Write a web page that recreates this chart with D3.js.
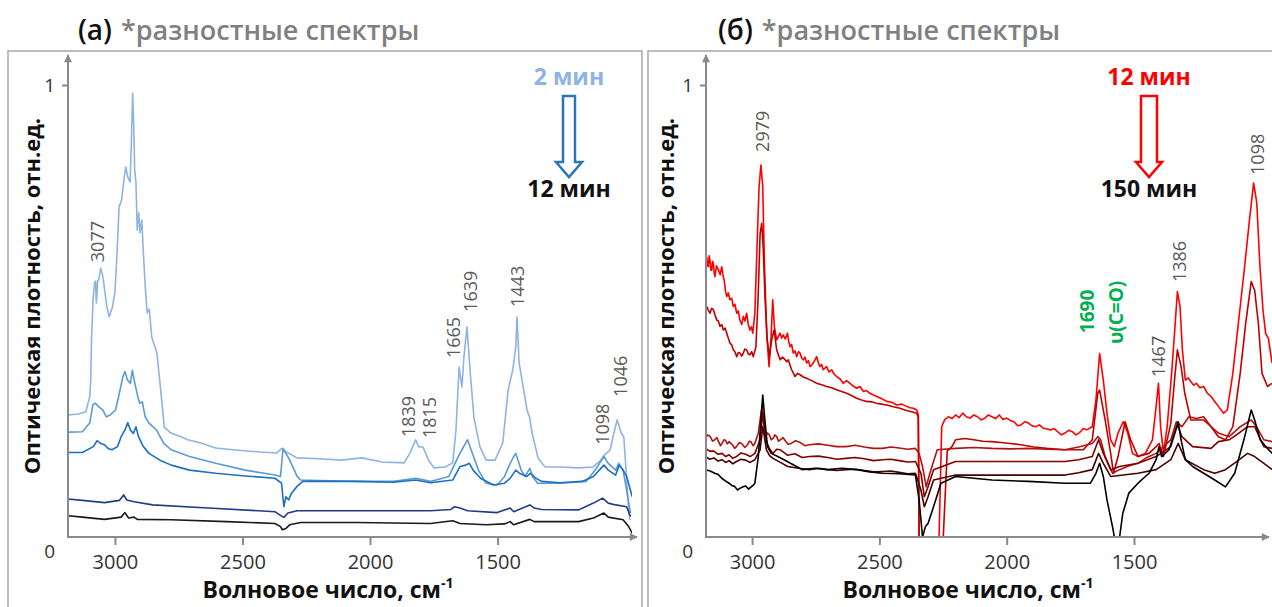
<!DOCTYPE html>
<html>
<head>
<meta charset="UTF-8">
<title>Разностные спектры</title>
<script src="https://cdn.jsdelivr.net/npm/d3@7"></script>
<style>
body { margin: 0; background: #fff; }
text { font-family: "Open Sans", "DejaVu Sans", sans-serif; }
</style>
</head>
<body>
<script>
var Width = 1272, Height = 607;

// ---- data: [wavenumber, absorbance] ----
// panel (a), 2 -> 12 min
var a2min = [[3199,.270],[3158,.272],[3129,.277],[3114,.310],[3110,.347],[3107,.436],[3101,.524],[3095,.562],[3091,.566],[3088,.518],[3083,.566],[3078,.571],[3071,.595],[3062,.575],[3048,.513],[3038,.487],[3025,.509],[3015,.542],[3007,.628],[2999,.730],[2989,.746],[2980,.790],[2973,.819],[2965,.796],[2956,.785],[2951,.872],[2946,.982],[2942,.918],[2938,.812],[2933,.785],[2928,.679],[2922,.717],[2917,.673],[2910,.701],[2904,.628],[2895,.540],[2889,.496],[2881,.504],[2871,.442],[2851,.407],[2836,.325],[2822,.243],[2796,.230],[2753,.221],[2730,.215],[2679,.208],[2621,.197],[2534,.192],[2447,.188],[2382,.186],[2362,.196],[2345,.188],[2302,.175],[2216,.173],[2128,.170],[2048,.175],[1970,.166],[1883,.164],[1860,.186],[1838,.215],[1825,.199],[1809,.199],[1788,.170],[1766,.153],[1723,.155],[1693,.164],[1680,.237],[1668,.376],[1657,.332],[1649,.398],[1637,.465],[1625,.369],[1610,.265],[1586,.199],[1562,.170],[1527,.170],[1497,.208],[1476,.325],[1458,.369],[1446,.420],[1441,.487],[1433,.385],[1417,.332],[1402,.281],[1392,.265],[1382,.230],[1359,.175],[1331,.155],[1273,.155],[1200,.153],[1143,.155],[1113,.170],[1100,.181],[1077,.192],[1062,.230],[1049,.259],[1033,.230],[1023,.221],[1011,.119],[1004,.060],[999,.038]];
var a4min = [[3198,.232],[3143,.233],[3114,.252],[3102,.292],[3092,.296],[3078,.288],[3063,.281],[3049,.266],[3034,.270],[3013,.281],[2998,.318],[2984,.355],[2976,.366],[2966,.347],[2955,.340],[2947,.369],[2940,.347],[2926,.311],[2918,.296],[2908,.299],[2897,.266],[2882,.252],[2853,.237],[2824,.207],[2795,.193],[2723,.178],[2621,.163],[2505,.148],[2389,.137],[2367,.134],[2357,.196],[2346,.185],[2331,.170],[2302,.134],[2288,.126],[2215,.125],[2070,.123],[1925,.123],[1838,.130],[1780,.123],[1708,.134],[1671,.178],[1657,.193],[1635,.215],[1621,.193],[1592,.148],[1563,.119],[1519,.115],[1490,.134],[1468,.163],[1454,.178],[1446,.185],[1442,.178],[1425,.148],[1410,.134],[1391,.152],[1381,.134],[1360,.119],[1273,.119],[1171,.123],[1135,.148],[1101,.178],[1084,.163],[1055,.148],[1043,.163],[1026,.148],[1012,.104],[997,.053]];
var a6min = [[3198,.187],[3143,.187],[3100,.200],[3085,.213],[3071,.207],[3056,.204],[3042,.196],[3027,.193],[3005,.200],[2991,.222],[2976,.237],[2965,.253],[2955,.237],[2943,.229],[2933,.244],[2923,.222],[2904,.200],[2882,.185],[2839,.170],[2795,.159],[2723,.148],[2621,.141],[2505,.135],[2389,.130],[2363,.119],[2354,.067],[2346,.089],[2335,.082],[2324,.097],[2302,.112],[2280,.123],[2215,.123],[2070,.123],[1925,.121],[1838,.126],[1780,.120],[1693,.126],[1664,.156],[1642,.159],[1628,.163],[1613,.148],[1584,.130],[1534,.115],[1490,.119],[1468,.130],[1446,.148],[1432,.141],[1403,.134],[1388,.141],[1367,.130],[1345,.123],[1273,.120],[1186,.123],[1142,.134],[1101,.159],[1084,.148],[1055,.137],[1041,.159],[1026,.148],[1012,.134],[990,.089]];
var a9min = [[3198,.084],[3143,.081],[3056,.076],[2998,.081],[2981,.093],[2969,.082],[2940,.078],[2868,.071],[2650,.064],[2389,.056],[2360,.045],[2353,.044],[2338,.053],[2302,.058],[2070,.058],[1780,.058],[1700,.061],[1686,.067],[1664,.064],[1635,.058],[1519,.054],[1468,.064],[1454,.056],[1391,.071],[1374,.064],[1345,.061],[1200,.060],[1142,.075],[1106,.086],[1084,.075],[1055,.071],[1012,.067],[997,.045]];
var a12min = [[3198,.047],[3143,.044],[3056,.039],[2991,.044],[2976,.054],[2962,.042],[2940,.044],[2928,.039],[2795,.038],[2578,.034],[2389,.030],[2367,.023],[2360,.016],[2346,.019],[2331,.027],[2288,.032],[2070,.032],[1780,.030],[1693,.036],[1664,.030],[1563,.027],[1490,.029],[1468,.034],[1454,.027],[1391,.039],[1374,.034],[1200,.034],[1142,.042],[1101,.053],[1084,.044],[1026,.038],[1004,.023],[990,.008]];

// panel (б), 12 -> 150 min
var b12min = [[3185,.620],[3182,.600],[3179,.598],[3176,.622],[3173,.613],[3169,.590],[3166,.591],[3163,.610],[3160,.606],[3157,.585],[3154,.576],[3148,.600],[3141,.591],[3134,.580],[3128,.598],[3123,.578],[3119,.569],[3114,.545],[3109,.532],[3103,.540],[3097,.525],[3090,.528],[3084,.510],[3078,.515],[3071,.495],[3065,.500],[3059,.480],[3052,.470],[3046,.488],[3040,.478],[3033,.495],[3027,.470],[3021,.458],[3015,.465],[3010,.451],[3002,.495],[2993,.657],[2986,.775],[2979,.823],[2972,.775],[2966,.613],[2957,.451],[2948,.377],[2941,.436],[2934,.525],[2928,.466],[2919,.436],[2906,.451],[2900,.440],[2894,.447],[2886,.438],[2878,.451],[2873,.432],[2868,.421],[2862,.426],[2856,.407],[2849,.412],[2843,.399],[2836,.410],[2830,.407],[2824,.396],[2818,.392],[2811,.398],[2805,.385],[2798,.390],[2792,.377],[2786,.380],[2780,.385],[2773,.392],[2767,.399],[2760,.385],[2754,.377],[2748,.382],[2742,.370],[2735,.374],[2729,.377],[2720,.365],[2710,.370],[2700,.360],[2691,.355],[2678,.350],[2666,.340],[2653,.346],[2640,.340],[2628,.334],[2615,.329],[2602,.333],[2589,.322],[2577,.324],[2564,.318],[2551,.314],[2538,.311],[2519,.306],[2500,.300],[2481,.298],[2462,.292],[2443,.294],[2424,.289],[2412,.286],[2399,.285],[2386,.281],[2380,.270],[2377,0],[2301,0],[2291,.244],[2280,.259],[2266,.266],[2252,.262],[2238,.270],[2225,.264],[2211,.274],[2197,.266],[2183,.263],[2169,.270],[2155,.266],[2141,.259],[2127,.263],[2113,.270],[2100,.266],[2086,.262],[2072,.270],[2058,.260],[2044,.263],[2030,.258],[2016,.255],[2002,.246],[1989,.248],[1975,.255],[1961,.252],[1947,.246],[1933,.244],[1919,.248],[1905,.241],[1891,.239],[1877,.237],[1863,.240],[1850,.233],[1836,.226],[1822,.230],[1808,.236],[1794,.233],[1780,.226],[1766,.231],[1752,.240],[1739,.237],[1718,.244],[1704,.303],[1690,.406],[1676,.347],[1662,.274],[1648,.215],[1634,.200],[1620,.230],[1600,.255],[1583,.230],[1565,.185],[1544,.178],[1516,.185],[1489,.215],[1475,.289],[1466,.340],[1458,.244],[1447,.185],[1433,.244],[1416,.362],[1405,.451],[1394,.543],[1384,.510],[1375,.414],[1364,.347],[1353,.352],[1343,.344],[1332,.336],[1322,.340],[1308,.330],[1294,.333],[1280,.318],[1266,.311],[1252,.300],[1238,.289],[1218,.274],[1204,.281],[1183,.362],[1162,.473],[1141,.583],[1120,.700],[1104,.783],[1092,.740],[1080,.600],[1068,.500],[1058,.450],[1048,.440],[1034,.385]];
var b30min = [[3185,.510],[3179,.502],[3173,.495],[3166,.506],[3160,.503],[3153,.490],[3147,.480],[3141,.478],[3135,.466],[3128,.470],[3122,.458],[3115,.462],[3109,.451],[3103,.440],[3097,.429],[3090,.425],[3084,.414],[3078,.410],[3071,.399],[3065,.408],[3059,.407],[3052,.400],[3046,.407],[3040,.416],[3033,.414],[3027,.405],[3021,.403],[3014,.410],[3008,.399],[2998,.421],[2990,.525],[2982,.672],[2976,.694],[2970,.635],[2963,.525],[2955,.436],[2947,.399],[2938,.436],[2929,.458],[2919,.414],[2906,.392],[2897,.398],[2887,.392],[2881,.388],[2875,.392],[2868,.380],[2862,.370],[2855,.362],[2849,.355],[2840,.362],[2830,.359],[2818,.354],[2805,.351],[2786,.346],[2767,.340],[2748,.337],[2729,.333],[2710,.330],[2691,.326],[2672,.322],[2653,.318],[2634,.313],[2615,.307],[2596,.303],[2577,.300],[2558,.299],[2539,.296],[2520,.294],[2500,.292],[2475,.288],[2450,.285],[2431,.281],[2412,.278],[2386,.274],[2380,.265],[2377,0],[2285,0],[2270,.190],[2252,.200],[2238,.215],[2203,.218],[2169,.215],[2134,.212],[2100,.211],[2065,.209],[2030,.207],[1989,.204],[1940,.199],[1891,.196],[1822,.193],[1752,.193],[1718,.215],[1697,.318],[1690,.325],[1669,.259],[1648,.185],[1637,.141],[1620,.178],[1593,.255],[1572,.215],[1544,.178],[1502,.185],[1475,.200],[1464,.207],[1447,.178],[1419,.252],[1405,.347],[1394,.414],[1380,.377],[1366,.318],[1343,.259],[1294,.259],[1266,.244],[1238,.222],[1211,.215],[1183,.244],[1155,.362],[1134,.473],[1113,.565],[1100,.546],[1086,.473],[1072,.362],[1051,.333],[1034,.340]];
var b60min = [[3190,.218],[3181,.226],[3172,.222],[3163,.212],[3155,.215],[3147,.220],[3140,.211],[3133,.202],[3127,.207],[3120,.215],[3114,.214],[3107,.206],[3100,.211],[3093,.207],[3086,.203],[3079,.196],[3072,.200],[3061,.209],[3051,.206],[3040,.198],[3030,.204],[3023,.212],[3016,.210],[3009,.202],[3002,.207],[2989,.230],[2975,.289],[2961,.222],[2954,.230],[2947,.226],[2940,.215],[2933,.218],[2926,.226],[2919,.222],[2912,.212],[2905,.215],[2895,.220],[2885,.212],[2875,.205],[2864,.207],[2847,.213],[2829,.209],[2812,.202],[2794,.204],[2760,.206],[2725,.203],[2690,.200],[2655,.200],[2620,.203],[2586,.199],[2550,.196],[2516,.196],[2485,.199],[2453,.197],[2420,.194],[2391,.196],[2377,.185],[2364,.156],[2350,.111],[2336,.141],[2308,.193],[2238,.196],[2169,.198],[2100,.196],[2030,.195],[1961,.196],[1891,.194],[1822,.193],[1770,.199],[1718,.207],[1697,.222],[1686,.215],[1669,.178],[1641,.141],[1614,.149],[1580,.157],[1544,.163],[1510,.176],[1475,.185],[1419,.215],[1398,.255],[1377,.244],[1350,.266],[1322,.262],[1294,.266],[1266,.244],[1238,.230],[1197,.222],[1155,.244],[1113,.259],[1093,.244],[1065,.215],[1033,.211]];
var b90min = [[3190,.196],[3174,.190],[3158,.190],[3142,.183],[3127,.185],[3113,.178],[3100,.182],[3086,.174],[3072,.178],[3055,.186],[3037,.183],[3020,.178],[3002,.185],[2982,.215],[2972,.274],[2961,.215],[2947,.196],[2933,.185],[2919,.194],[2905,.193],[2878,.181],[2850,.184],[2822,.176],[2794,.178],[2760,.179],[2725,.176],[2690,.172],[2655,.174],[2620,.176],[2586,.173],[2550,.169],[2516,.171],[2485,.172],[2453,.169],[2420,.166],[2391,.167],[2370,.141],[2357,.089],[2343,.111],[2322,.149],[2238,.167],[2100,.167],[1961,.167],[1822,.167],[1770,.171],[1718,.178],[1694,.215],[1676,.185],[1648,.149],[1614,.156],[1544,.163],[1475,.178],[1419,.200],[1394,.248],[1377,.222],[1336,.200],[1266,.196],[1238,.211],[1197,.215],[1160,.230],[1127,.244],[1100,.244],[1065,.200],[1033,.196]];
var b120min = [[3190,.178],[3174,.172],[3158,.175],[3142,.168],[3127,.171],[3113,.165],[3100,.169],[3086,.162],[3072,.167],[3055,.172],[3037,.170],[3020,.165],[3002,.171],[2982,.193],[2972,.244],[2958,.193],[2946,.180],[2933,.174],[2905,.165],[2877,.156],[2836,.152],[2794,.149],[2760,.152],[2725,.149],[2690,.147],[2655,.149],[2620,.150],[2586,.147],[2550,.144],[2516,.145],[2485,.146],[2453,.143],[2420,.140],[2391,.141],[2370,.104],[2357,.067],[2343,.089],[2322,.126],[2238,.137],[2100,.137],[1961,.137],[1822,.137],[1770,.142],[1718,.149],[1694,.185],[1676,.163],[1648,.134],[1544,.141],[1475,.149],[1419,.171],[1391,.207],[1364,.171],[1294,.149],[1252,.141],[1211,.149],[1170,.166],[1127,.185],[1100,.178],[1065,.163],[1033,.149]];
var b150min = [[3190,.149],[3172,.146],[3155,.141],[3141,.138],[3128,.130],[3114,.124],[3100,.119],[3090,.114],[3079,.112],[3068,.104],[3058,.108],[3047,.111],[3037,.113],[3026,.106],[3016,.111],[3009,.114],[3002,.119],[2989,.178],[2977,.274],[2972,.314],[2964,.259],[2954,.200],[2940,.185],[2915,.178],[2891,.171],[2856,.160],[2822,.149],[2774,.152],[2725,.149],[2670,.152],[2614,.149],[2565,.144],[2516,.141],[2453,.140],[2391,.137],[2377,.082],[2364,0],[2353,.023],[2343,.030],[2322,.067],[2294,.119],[2238,.134],[2100,.126],[1961,.123],[1822,.119],[1725,.119],[1704,.141],[1690,.163],[1676,.134],[1662,.082],[1641,.023],[1634,0],[1614,0],[1602,.052],[1579,.097],[1544,.119],[1502,.141],[1475,.171],[1464,.200],[1454,.178],[1426,.193],[1405,.230],[1391,.255],[1380,.215],[1364,.171],[1336,.156],[1294,.141],[1252,.126],[1211,.111],[1176,.141],[1141,.215],[1113,.281],[1100,.259],[1079,.215],[1058,.200],[1033,.185]];

var seriesA = [a2min, a4min, a6min, a9min, a12min];
var seriesB = [b12min, b30min, b60min, b90min, b120min, b150min];
var colorsA = ["#8db4e2", "#5b9bd5", "#1f6fc0", "#1f3c88", "#1a1a1a"];
var colorsB = ["#ff0000", "#c00000", "#b31212", "#800000", "#4a0000", "#000000"];

var xTicks = [3000, 2500, 2000, 1500];
var yTicks = [0, 1];

// peak labels: text, wavenumber, absorbance at foot of label
var peaksA = [["3077",3085,.608],["1839",1868,.221],["1815",1787,.219],["1665",1692,.396],["1639",1625,.498],["1443",1441,.509],["1098",1110,.204],["1046",1038,.310]];
var peaksB = [["2979",2975,.852],["1467",1468,.354],["1386",1388,.564],["1098",1091,.801]];
var peaksBGreen = [["1690",1738,.451],["υ(C=O)",1628,.427]];

var svg = d3.select("body").append("svg")
    .attr("width", Width)
    .attr("height", Height);

var axisColor = "#898989";
svg.append("defs").append("marker")
    .attr("id", "axArrow")
    .attr("viewBox", "0 0 10 10")
    .attr("refX", 9).attr("refY", 5)
    .attr("markerWidth", 9).attr("markerHeight", 8)
    .attr("markerUnits", "userSpaceOnUse")
    .attr("orient", "auto")
    .append("path").attr("d", "M0,0 L10,5 L0,10 z").attr("fill", axisColor);

function hollowArrow(g, cx, top, headY, tip, shaftW, headW, color, sw){
    var p = [[cx - shaftW, top], [cx + shaftW, top], [cx + shaftW, headY], [cx + headW, headY],
             [cx, tip], [cx - headW, headY], [cx - shaftW, headY]];
    g.append("path")
        .attr("d", d3.line()(p) + "Z")
        .attr("fill", "#fff")
        .attr("stroke", color)
        .attr("stroke-width", sw)
        .attr("stroke-linejoin", "miter");
}

function drawPanel(p){
    var g = svg.append("g");
    var y = d3.scaleLinear().domain([0, 1]).range([537, 85]);
    var x = d3.scaleLinear().domain(p.dataDomain).range([p.x0, p.x1]);
    // the drawn wavenumber axis is a separate overlay in the original figure
    var xt = d3.scaleLinear().domain(p.tickDomain).range([p.x0, p.x1]);

    g.append("rect")
        .attr("x", p.frameX).attr("y", 51)
        .attr("width", p.frameW).attr("height", 620)
        .attr("fill", "none").attr("stroke", "#a6a6a6").attr("stroke-width", 1.5);

    // titles
    var t = g.append("text").attr("x", p.titleX).attr("y", 40)
        .attr("font-size", 27).attr("font-weight", 600);
    t.append("tspan").attr("fill", "#111").attr("font-size", 28).text(p.letter);
    t.append("tspan").attr("fill", "#808080").attr("dx", 9).text("*разностные спектры");

    // spectra
    g.append("clipPath").attr("id", p.id + "clip")
        .append("rect").attr("x", p.x0).attr("y", 40)
        .attr("width", p.x1 - p.x0).attr("height", 537 - 40);
    var line = d3.line().x(function(d){ return x(d[0]); }).y(function(d){ return y(d[1]); });
    g.append("g").attr("clip-path", "url(#" + p.id + "clip)")
        .selectAll("path")
        .data(p.series)
        .enter()
        .append("path")
        .attr("d", line)
        .attr("fill", "none")
        .attr("stroke", function(d, i){ return p.colors[i]; })
        .attr("stroke-width", 1.6)
        .attr("stroke-linejoin", "round");

    // x axis
    var gx = g.append("g").attr("transform", "translate(0,537)")
        .call(d3.axisBottom(xt).tickValues(xTicks).tickSize(8).tickPadding(10).tickFormat(d3.format("d")));
    gx.select(".domain").remove();
    gx.selectAll(".tick line").attr("stroke", axisColor).attr("stroke-width", 2);
    gx.selectAll(".tick text").attr("font-size", 20).attr("fill", "#333")
        .attr("font-family", "Open Sans");
    g.append("line").attr("x1", p.x0).attr("y1", 537).attr("x2", p.xArrow).attr("y2", 537)
        .attr("stroke", axisColor).attr("stroke-width", 2).attr("marker-end", "url(#axArrow)");

    // y axis
    var gy = g.append("g").attr("transform", "translate(" + p.x0 + ",0)")
        .call(d3.axisLeft(y).tickValues(yTicks).tickSize(6).tickPadding(7).tickFormat(d3.format("d")));
    gy.select(".domain").remove();
    gy.selectAll(".tick line").attr("stroke", axisColor).attr("stroke-width", 2)
        .attr("display", function(d){ return d === 0 ? "none" : null; });
    gy.selectAll(".tick text").attr("font-size", 19).attr("fill", "#333")
        .attr("font-family", "Open Sans")
        .attr("dy", function(d){ return d === 0 ? "1.1em" : "0.32em"; });
    g.append("line").attr("x1", p.x0).attr("y1", 538).attr("x2", p.x0).attr("y2", 55)
        .attr("stroke", axisColor).attr("stroke-width", 2).attr("marker-end", "url(#axArrow)");

    // axis titles
    var xl = g.append("text").attr("x", p.xLabelX).attr("y", 598)
        .attr("text-anchor", "middle").attr("font-size", 23).attr("font-weight", 700).attr("fill", "#111");
    xl.append("tspan").text("Волновое число, см");
    xl.append("tspan").attr("font-size", 14).attr("dy", -10).text("-1");
    g.append("text")
        .attr("transform", "translate(" + p.yLabelX + ",296) rotate(-90)")
        .attr("text-anchor", "middle").attr("font-size", 22).attr("font-weight", 700).attr("fill", "#111")
        .text("Оптическая плотность, отн.ед.");

    // peak labels
    g.selectAll(".peak")
        .data(p.peaks)
        .enter()
        .append("text")
        .attr("transform", function(d){ return "translate(" + x(d[1]) + "," + y(d[2]) + ") rotate(-90)"; })
        .attr("dominant-baseline", "central")
        .attr("font-size", 18).attr("fill", "#595959")
        .text(function(d){ return d[0]; });
    if(p.green){
        g.selectAll(".green")
            .data(p.green)
            .enter()
            .append("text")
            .attr("transform", function(d){ return "translate(" + x(d[1]) + "," + y(d[2]) + ") rotate(-90)"; })
            .attr("dominant-baseline", "central")
            .attr("font-size", 19).attr("font-weight", 700).attr("fill", "#00b050")
            .text(function(d){ return d[0]; });
    }

    // time arrow
    g.append("text").attr("x", p.arrowX).attr("y", 85).attr("text-anchor", "middle")
        .attr("font-size", 23).attr("font-weight", 700).attr("fill", p.fromColor).text(p.fromText);
    hollowArrow(g, p.arrowX, 96, 162, 177, p.shaftW, 13, p.arrowColor, 2.5);
    g.append("text").attr("x", p.arrowX).attr("y", 197).attr("text-anchor", "middle")
        .attr("font-size", 23).attr("font-weight", 700).attr("fill", "#111").text(p.toText);
}

drawPanel({
    id: "a", letter: "(a)", titleX: 78, frameX: 8, frameW: 634,
    x0: 68, x1: 632, xArrow: 637,
    dataDomain: [3199, 991], tickDomain: [3184, 973],
    series: seriesA, colors: colorsA, peaks: peaksA,
    xLabelX: 328, yLabelX: 40,
    arrowX: 569, shaftW: 6, arrowColor: "#2e75b6",
    fromText: "2 мин", fromColor: "#8db4e2", toText: "12 мин"
});

drawPanel({
    id: "b", letter: "(б)", titleX: 718, frameX: 648, frameW: 640,
    x0: 706, x1: 1272, xArrow: 1269,
    dataDomain: [3188, 1034], tickDomain: [3181, 958],
    series: seriesB, colors: colorsB, peaks: peaksB, green: peaksBGreen,
    xLabelX: 968, yLabelX: 674,
    arrowX: 1149, shaftW: 8, arrowColor: "#ff0000",
    fromText: "12 мин", fromColor: "#ff0000", toText: "150 мин"
});
</script>
</body>
</html>
